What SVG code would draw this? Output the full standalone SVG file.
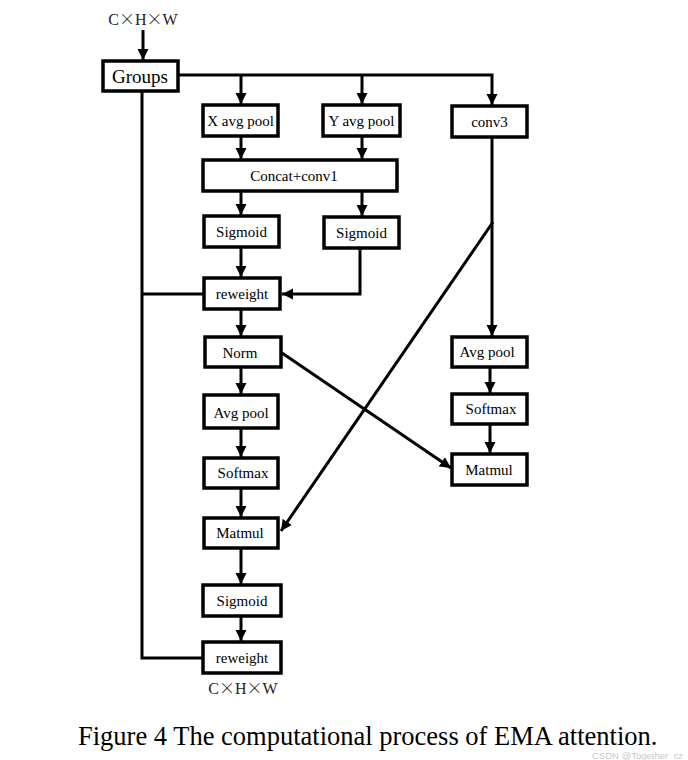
<svg xmlns="http://www.w3.org/2000/svg" width="688" height="760" viewBox="0 0 688 760">
<style>
.box{fill:#fff;stroke:#000;stroke-width:3.5}
.t{font-family:"Liberation Serif","Times New Roman",serif;font-size:15px;fill:#000;text-anchor:middle}
.dim{font-family:"Liberation Serif","Times New Roman",serif;font-size:16px;fill:#222;text-anchor:middle}
.x{font-family:"Noto Sans CJK SC","Liberation Serif",serif;font-weight:300}
.ln{fill:none;stroke:#000;stroke-width:3}
.ar{fill:none;stroke:#000;stroke-width:3;marker-end:url(#ah)}
</style>
<defs>
<marker id="ah" markerUnits="userSpaceOnUse" markerWidth="12" markerHeight="12" refX="11" refY="6" orient="auto">
<path d="M0,0.5 L11,6 L0,11.5 z" fill="#000"/>
</marker>
</defs>
<rect width="688" height="760" fill="#fff"/>
<text class="dim" x="143" y="25">C<tspan class="x">×</tspan>H<tspan class="x">×</tspan>W</text>
<g id="connectors">
<line class="ar" x1="143" y1="30" x2="143" y2="60"/>
<polyline class="ar" points="178,75 492,75 492,105"/>
<line class="ar" x1="241" y1="75" x2="241" y2="104"/>
<line class="ar" x1="362" y1="75" x2="362" y2="104"/>
<line class="ar" x1="241" y1="137" x2="241" y2="159"/>
<line class="ar" x1="362" y1="137" x2="362" y2="159"/>
<line class="ar" x1="241" y1="192" x2="241" y2="215"/>
<line class="ar" x1="362" y1="192" x2="362" y2="216"/>
<line class="ar" x1="241" y1="248" x2="241" y2="277"/>
<polyline class="ar" points="360,249 360,294 282,294"/>
<polyline class="ln" points="142,91 142,658 203,658"/>
<line class="ln" x1="142" y1="294" x2="204" y2="294"/>
<line class="ar" x1="241" y1="310" x2="241" y2="336"/>
<line class="ar" x1="241" y1="368" x2="241" y2="394"/>
<line class="ar" x1="241" y1="429" x2="241" y2="457"/>
<line class="ar" x1="241" y1="489" x2="241" y2="517"/>
<line class="ar" x1="241" y1="549" x2="241" y2="584"/>
<line class="ar" x1="241" y1="617" x2="241" y2="641"/>
<line class="ar" x1="492" y1="138" x2="492" y2="336"/>
<line class="ar" x1="493" y1="222" x2="281" y2="531"/>
<line class="ar" x1="282" y1="353" x2="451" y2="468"/>
<line class="ar" x1="490" y1="368" x2="490" y2="393"/>
<line class="ar" x1="490" y1="425" x2="490" y2="453"/>
</g>
<g id="groups"><rect class="box" x="103" y="61" width="75" height="30"/><text class="t" x="140" y="83" style="font-size:19px">Groups</text></g>
<g id="xpool"><rect class="box" x="203" y="105" width="75" height="31"/><text class="t" x="240.5" y="126">X avg pool</text></g>
<g id="ypool"><rect class="box" x="323" y="105" width="77" height="31"/><text class="t" x="361.5" y="126">Y avg pool</text></g>
<g id="conv3"><rect class="box" x="452" y="106" width="75" height="31"/><text class="t" x="489.5" y="127">conv3</text></g>
<g id="concat"><rect class="box" x="203" y="160" width="194" height="31"/><text class="t" x="294" y="181">Concat+conv1</text></g>
<g id="sig1"><rect class="box" x="204" y="216" width="75" height="31"/><text class="t" x="241.5" y="237">Sigmoid</text></g>
<g id="sig2"><rect class="box" x="324" y="217" width="75" height="31"/><text class="t" x="361.5" y="238">Sigmoid</text></g>
<g id="reweight1"><rect class="box" x="204" y="278" width="76" height="31"/><text class="t" x="242" y="299">reweight</text></g>
<g id="norm"><rect class="box" x="205" y="337" width="76" height="30"/><text class="t" x="240" y="358">Norm</text></g>
<g id="avgpool1"><rect class="box" x="204" y="395" width="74" height="33"/><text class="t" x="241" y="418">Avg pool</text></g>
<g id="softmax1"><rect class="box" x="204" y="458" width="74" height="30"/><text class="t" x="243" y="478">Softmax</text></g>
<g id="matmul1"><rect class="box" x="204" y="518" width="74" height="30"/><text class="t" x="240" y="538">Matmul</text></g>
<g id="sig3"><rect class="box" x="203" y="585" width="78" height="31"/><text class="t" x="242" y="606">Sigmoid</text></g>
<g id="reweight2"><rect class="box" x="203" y="642" width="78" height="31"/><text class="t" x="242" y="663">reweight</text></g>
<g id="avgpool2"><rect class="box" x="452" y="337" width="75" height="30"/><text class="t" x="487" y="357">Avg pool</text></g>
<g id="softmax2"><rect class="box" x="452" y="394" width="75" height="30"/><text class="t" x="491" y="414">Softmax</text></g>
<g id="matmul2"><rect class="box" x="452" y="454" width="75" height="31"/><text class="t" x="489" y="475">Matmul</text></g>
<text class="dim" x="243" y="694">C<tspan class="x">×</tspan>H<tspan class="x">×</tspan>W</text>
<text x="78" y="745" style="font-family:'Liberation Serif','Times New Roman',serif;font-size:26.5px;fill:#000">Figure 4 The computational process of EMA attention.</text>
<text x="592" y="759" style="font-family:'Liberation Sans',Arial,sans-serif;font-size:9.5px;fill:#c8c8c8">CSDN @Together_cz</text>
</svg>
